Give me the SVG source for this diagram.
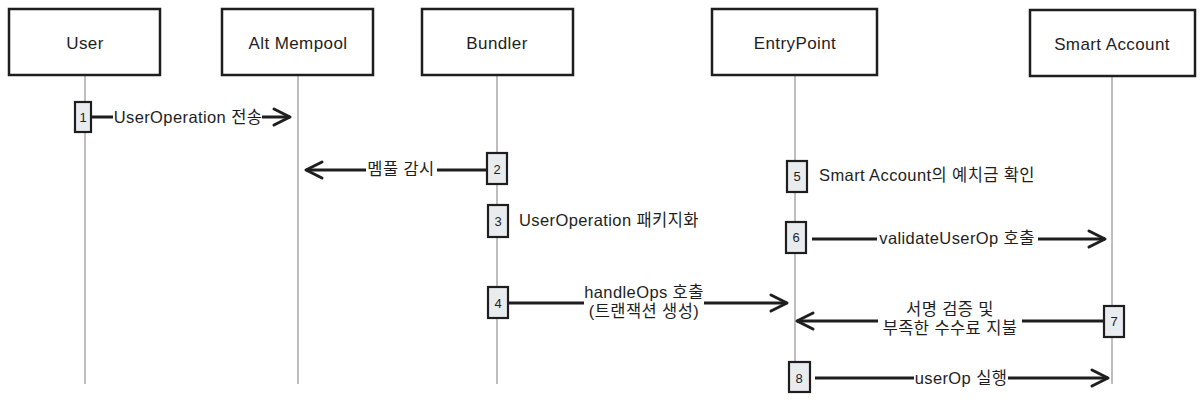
<svg xmlns="http://www.w3.org/2000/svg" width="1204" height="402" viewBox="0 0 1204 402">
<style>
.box{fill:#fff;stroke:#1e1e1e;stroke-width:2.5}
.life{stroke:#a8a8a8;stroke-width:1.5;fill:none}
.act{fill:#e9ecef;stroke:#1e1e1e;stroke-width:2.2}
.msg{stroke:#1e1e1e;stroke-width:3;fill:none}
.t{font-family:"Liberation Sans","Noto Sans CJK KR",sans-serif;font-size:16.5px;letter-spacing:0.4px;fill:#1e1e1e;text-anchor:middle;dominant-baseline:central}
.h{font-size:17px}
.n{font-size:13px;letter-spacing:0}
.l{text-anchor:start}
.bg{fill:#fff}
</style>
<defs>
<marker id="ah" markerUnits="userSpaceOnUse" markerWidth="24" markerHeight="24" refX="20" refY="12" orient="auto">
<path d="M4,4 L20,12 L4,20" fill="none" stroke="#1e1e1e" stroke-width="3" stroke-linecap="round" stroke-linejoin="round"/>
</marker>
</defs>
<g id="lifelines">
<line class="life" x1="85" y1="75" x2="85" y2="384"/>
<line class="life" x1="298" y1="75" x2="298" y2="384"/>
<line class="life" x1="497" y1="75" x2="497" y2="384"/>
<line class="life" x1="795" y1="75" x2="795" y2="384"/>
<line class="life" x1="1112" y1="76" x2="1112" y2="384"/>
</g>
<g id="user"><rect class="box" x="9" y="9" width="151" height="66"/><text class="t h" x="85" y="43">User</text></g>
<g id="altmempool"><rect class="box" x="222" y="9" width="151" height="66"/><text class="t h" x="298" y="43">Alt Mempool</text></g>
<g id="bundler"><rect class="box" x="422" y="9" width="151" height="66"/><text class="t h" x="497" y="43">Bundler</text></g>
<g id="entrypoint"><rect class="box" x="712" y="9" width="165" height="66"/><text class="t h" x="795" y="43">EntryPoint</text></g>
<g id="smartaccount"><rect class="box" x="1030" y="10" width="165" height="66"/><text class="t h" x="1112" y="44">Smart Account</text></g>
<g id="connectors">
<line class="msg" x1="91" y1="117" x2="290" y2="117" marker-end="url(#ah)"/>
<rect class="bg" x="113" y="107" width="149" height="20"/>
<text class="t" x="188" y="117">UserOperation 전송</text>
<line class="msg" x1="487" y1="170" x2="306" y2="170" marker-end="url(#ah)"/>
<rect class="bg" x="366" y="160" width="71" height="20"/>
<text class="t" x="401" y="169">멤풀 감시</text>
<line class="msg" x1="508" y1="303" x2="787" y2="303" marker-end="url(#ah)"/>
<rect class="bg" x="584" y="282" width="120" height="40"/>
<text class="t" x="644" y="292">handleOps 호출</text>
<text class="t" x="644" y="311">(트랜잭션 생성)</text>
<line class="msg" x1="812" y1="239" x2="1105" y2="239" marker-end="url(#ah)"/>
<rect class="bg" x="877" y="229" width="161" height="20"/>
<text class="t" x="957" y="238">validateUserOp 호출</text>
<line class="msg" x1="1104" y1="321" x2="797" y2="321" marker-end="url(#ah)"/>
<rect class="bg" x="878" y="298" width="144" height="42"/>
<text class="t" x="950" y="309">서명 검증 및</text>
<text class="t" x="950" y="328">부족한 수수료 지불</text>
<line class="msg" x1="815" y1="378" x2="1108" y2="378" marker-end="url(#ah)"/>
<rect class="bg" x="914" y="368" width="94" height="20"/>
<text class="t" x="961" y="378">userOp 실행</text>
</g>
<g id="step1"><rect class="act" x="75" y="102" width="16" height="30"/><text class="t n" x="83" y="117">1</text></g>
<g id="step2"><rect class="act" x="487" y="153" width="20" height="31"/><text class="t n" x="497" y="169">2</text></g>
<g id="step3"><rect class="act" x="488" y="205" width="20" height="32"/><text class="t n" x="498" y="221">3</text><text class="t l" x="519" y="220">UserOperation 패키지화</text></g>
<g id="step4"><rect class="act" x="488" y="287" width="20" height="31"/><text class="t n" x="498" y="303">4</text></g>
<g id="step5"><rect class="act" x="787" y="161" width="20" height="31"/><text class="t n" x="797" y="176">5</text><text class="t l" x="819" y="175">Smart Account의 예치금 확인</text></g>
<g id="step6"><rect class="act" x="786" y="222" width="20" height="31"/><text class="t n" x="796" y="237">6</text></g>
<g id="step7"><rect class="act" x="1104" y="306" width="20" height="31"/><text class="t n" x="1114" y="321">7</text></g>
<g id="step8"><rect class="act" x="789" y="362" width="21" height="30"/><text class="t n" x="799" y="378">8</text></g>
</svg>
